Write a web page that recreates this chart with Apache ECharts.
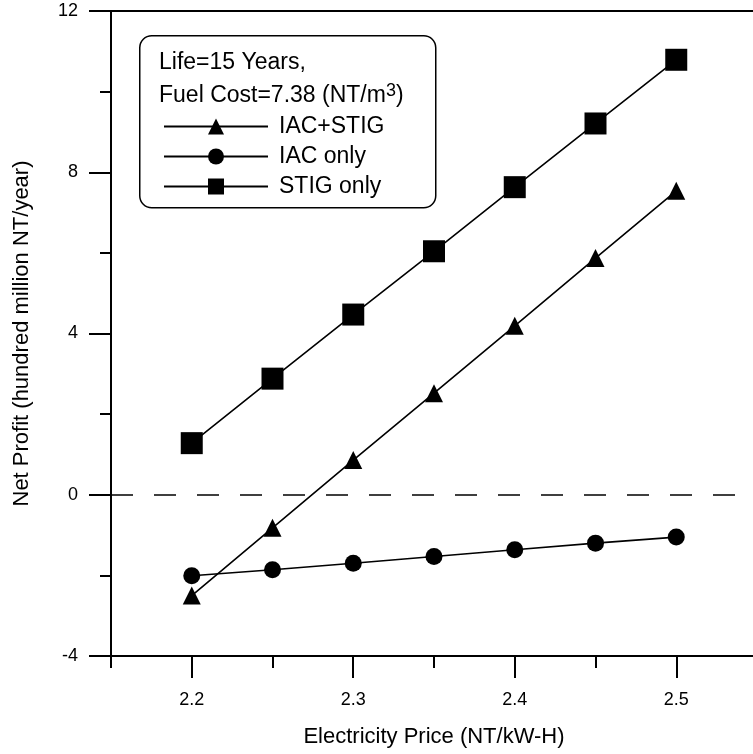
<!DOCTYPE html>
<html>
<head>
<meta charset="utf-8">
<script src="https://cdn.jsdelivr.net/npm/echarts@6/dist/echarts.min.js"></script>
<style>
html,body{margin:0;padding:0;background:#fff;}
#chart{width:753px;height:754px;}
</style>
</head>
<body>
<div id="chart"></div>
<script>
// electricity price (NT/kW-H)
const prices = [2.2, 2.25, 2.3, 2.35, 2.4, 2.45, 2.5];
// net profit, hundred million NT/year
const iacStig = [-2.5, -0.82, 0.86, 2.52, 4.19, 5.87, 7.54];
const iacOnly = [-2.01, -1.86, -1.70, -1.53, -1.365, -1.20, -1.05];
const stigOnly = [1.28, 2.88, 4.47, 6.04, 7.63, 9.21, 10.79];
const majorX = [2.2, 2.3, 2.4, 2.5];
const minorX = [2.15, 2.25, 2.35, 2.45, 2.55];

const font = "'Liberation Sans', Arial, Helvetica, sans-serif";
const black = '#000';

function pairs(ys){
  return prices.map((x, i) => [x, ys[i]]);
}

const chart = echarts.init(document.getElementById('chart'));
chart.setOption({
  animation: false,
  backgroundColor: '#fff',
  textStyle: {fontFamily: font, color: black},
  grid: {
    left: 111, top: 11, width: 646, height: 645,
    outerBoundsMode: 'none', containLabel: false,
    show: true, borderColor: black, borderWidth: 2
  },
  legend: {
    left: 158, top: 110, orient: 'vertical',
    itemWidth: 104, itemHeight: 20, itemGap: 7,
    textStyle: {fontFamily: font, fontSize: 23, color: black, padding: [0, 0, 0, 6]},
    data: ['IAC+STIG', 'IAC only', 'STIG only']
  },
  graphic: [
    {
      type: 'rect', left: 139, top: 35, z: 1,
      shape: {width: 296, height: 172, r: 12},
      style: {fill: '#fff', stroke: black, lineWidth: 1.5}
    },
    {
      type: 'text', left: 159, top: 51, z: 2,
      style: {text: 'Life=15 Years,', font: '23px ' + font, fill: black}
    },
    {
      type: 'text', left: 159, top: 82, z: 2,
      style: {
        text: 'Fuel Cost=7.38 (NT/m{sup|3})',
        font: '23px ' + font, fill: black,
        rich: {sup: {fontSize: 18, fontFamily: font, verticalAlign: 'top', padding: [0, 0, 9, 0]}}
      }
    }
  ],
  xAxis: [
    {
      type: 'value', min: 2.15, max: 2.55,
      name: 'Electricity Price (NT/kW-H)',
      nameLocation: 'middle', nameGap: 70,
      nameTextStyle: {fontSize: 22, color: black, fontFamily: font},
      axisLine: {onZero: false, lineStyle: {color: black, width: 2}},
      axisTick: {customValues: majorX, length: 22, lineStyle: {color: black, width: 2}},
      axisLabel: {
        customValues: majorX, margin: 35, fontSize: 18, color: black, fontFamily: font,
        formatter: v => v.toFixed(1)
      },
      splitLine: {show: false}
    },
    {
      type: 'value', min: 2.15, max: 2.55, position: 'bottom',
      axisLine: {show: false, onZero: false},
      axisTick: {customValues: minorX, length: 12, lineStyle: {color: black, width: 2}},
      axisLabel: {show: false},
      splitLine: {show: false}
    }
  ],
  yAxis: {
    type: 'value', min: -4, max: 12, interval: 4,
    name: 'Net Profit (hundred million NT/year)',
    nameLocation: 'middle', nameGap: 78,
    nameTextStyle: {fontSize: 22, color: black, fontFamily: font},
    axisLine: {onZero: false, lineStyle: {color: black, width: 2}},
    axisTick: {length: 22, lineStyle: {color: black, width: 2}},
    minorTick: {show: true, splitNumber: 2, length: 11, lineStyle: {color: black, width: 2}},
    axisLabel: {margin: 33, fontSize: 18, color: black, fontFamily: font},
    splitLine: {show: false}
  },
  series: [
    {
      name: 'IAC+STIG', type: 'line', data: pairs(iacStig),
      symbol: 'triangle', symbolSize: 18,
      lineStyle: {color: black, width: 1.6},
      itemStyle: {color: black},
      markLine: {
        silent: true, symbol: 'none', label: {show: false},
        lineStyle: {color: black, width: 1.5, type: [22, 21]},
        data: [{yAxis: 0}]
      }
    },
    {
      name: 'IAC only', type: 'line', data: pairs(iacOnly),
      symbol: 'circle', symbolSize: 17,
      lineStyle: {color: black, width: 1.6},
      itemStyle: {color: black}
    },
    {
      name: 'STIG only', type: 'line', data: pairs(stigOnly),
      symbol: 'rect', symbolSize: 22,
      lineStyle: {color: black, width: 1.6},
      itemStyle: {color: black}
    }
  ]
});
</script>
</body>
</html>
